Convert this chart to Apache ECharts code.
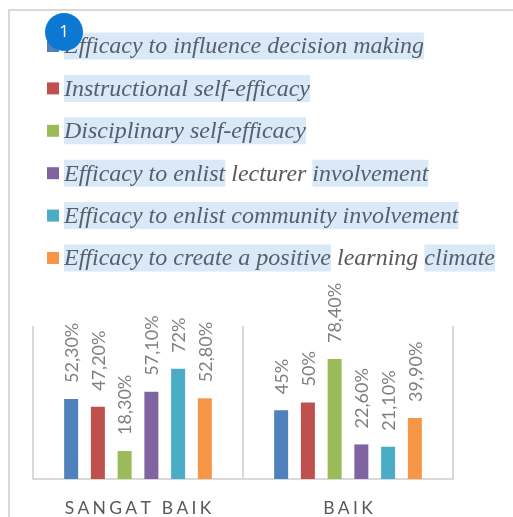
<!DOCTYPE html>
<html>
<head>
<meta charset="utf-8">
<script src="https://cdn.jsdelivr.net/npm/echarts@6/dist/echarts.min.js"></script>
<style>
html,body{margin:0;padding:0;background:#fff;}
#main{width:513px;height:517px;}
</style>
</head>
<body>
<div id="main"></div>
<script>
var categories=['SANGAT BAIK','BAIK'];
var seriesNames=[
    'Efficacy to influence decision making',
    'Instructional self-efficacy',
    'Disciplinary self-efficacy',
    'Efficacy to enlist lecturer involvement',
    'Efficacy to enlist community involvement',
    'Efficacy to create a positive learning climate'
];
var influence=[52.3,45];
var instructional=[47.2,50];
var disciplinary=[18.3,78.4];
var lecturer=[57.1,22.6];
var community=[72,21.1];
var climate=[52.8,39.9];
var seriesValues=[influence,instructional,disciplinary,lecturer,community,climate];
var colors=['#4f81bd','#c0504d','#9bbb59','#8064a2','#4bacc6','#f79646'];
// words the text selection in the picture skips
var plainWords=['lecturer','learning'];

var textFont={fontFamily:'Liberation Serif',fontStyle:'italic',fontSize:24,color:'#56606b',height:25,lineHeight:25,padding:[2,0,0,0]};

function legendText(name){
    var out='{h|'+name+'}';
    plainWords.forEach(function(w){
        out=out.replace(' '+w+' ','}{n| '+w+' }{h|');
    });
    return out;
}

var Myecharts=echarts.init(document.getElementById('main'));
var option={
    animation:false,
    color:colors,
    legend:{
        orient:'vertical',
        left:47,
        top:32.5,
        padding:0,
        itemWidth:12,
        itemHeight:12,
        itemGap:15.4,
        icon:'rect',
        selectedMode:false,
        data:seriesNames,
        formatter:legendText,
        textStyle:{
            rich:{
                h:Object.assign({},textFont,{backgroundColor:'#dae9f7'}),
                n:Object.assign({},textFont,{color:'#595959'})
            }
        }
    },
    grid:{left:33,right:60,top:326,bottom:38},
    xAxis:{
        type:'category',
        data:categories,
        axisLine:{lineStyle:{color:'#d9d9d9',width:2}},
        axisTick:{show:false},
        splitLine:{show:true,lineStyle:{color:'#d9d9d9',width:2}},
        axisLabel:{
            color:'#595959',
            fontFamily:'Lato',
            fontSize:17.5,
            margin:20,
            formatter:function(value){
                return value.split('').join('\u200a\u200a\u200a');
            }
        }
    },
    yAxis:{type:'value',min:0,max:100,show:false},
    series:seriesNames.map(function(name,i){
        return {
            name:name,
            type:'bar',
            data:seriesValues[i],
            barWidth:14,
            barGap:'91%',
            label:{
                show:true,
                position:'top',
                distance:16,
                rotate:90,
                align:'left',
                verticalAlign:'middle',
                offset:[0,1],
                color:'#7f7f7f',
                fontFamily:'Lato',
                fontSize:18,
                formatter:function(p){
                    return Number.isInteger(p.value)?p.value+'%':p.value.toFixed(2).replace('.',',')+'%';
                }
            }
        };
    }),
    graphic:[
        {type:'rect',z:0,shape:{x:9,y:10,width:520,height:520},style:{fill:'none',stroke:'#d9d9d9',lineWidth:2}},
        {type:'circle',z:100,shape:{cx:64,cy:32,r:19},style:{fill:'#0c78d2'}},
        {type:'text',z:101,x:64,y:32,style:{text:'1',fill:'#fff',fontFamily:'Open Sans',fontSize:17,align:'center',verticalAlign:'middle'}}
    ]
};
Myecharts.setOption(option);
</script>
</body>
</html>
